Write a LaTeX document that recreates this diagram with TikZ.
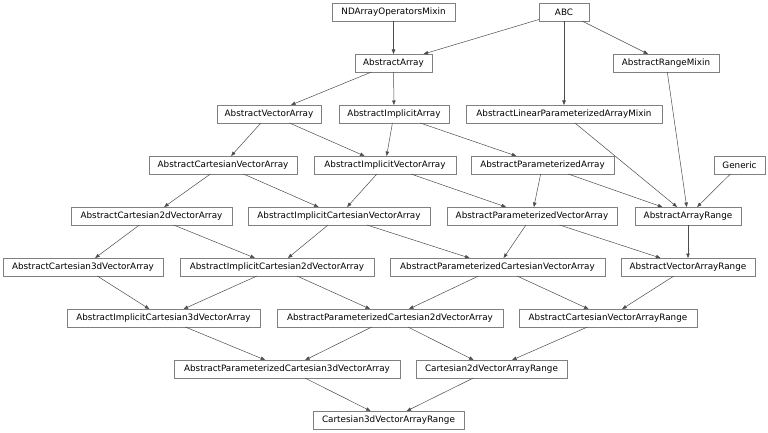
\documentclass[tikz,border=0pt]{standalone}
\usepackage{fontspec}
\setmainfont{DejaVu Sans}
\usetikzlibrary{arrows.meta}
\begin{document}
\begin{tikzpicture}[x=1pt,y=1pt,
  cls/.style={draw=black!50, line width=0.6pt, fill=white, minimum height=18pt, inner sep=0pt, outer sep=0pt, font=\fontsize{8.8}{10}\selectfont, text=black},
  edge/.style={draw=black!70, line width=0.5pt, -{Triangle[length=4.5pt,width=3.5pt]}}]
\useasboundingbox (0,0) rectangle (768,432);
% row 0
\node[cls, minimum width=123pt] (nd) at (393.5,420) {NDArrayOperatorsMixin};
\node[cls, minimum width=50pt] (abc) at (564,420) {ABC};
% row 1
\node[cls, minimum width=77pt] (aa) at (393.5,369) {AbstractArray};
\node[cls, minimum width=106pt] (arm) at (666,369) {AbstractRangeMixin};
% row 2
\node[cls, minimum width=104pt] (ava) at (269,318) {AbstractVectorArray};
\node[cls, minimum width=110pt] (aia) at (394,318) {AbstractImplicitArray};
\node[cls, minimum width=196pt] (alp) at (564,318) {AbstractLinearParameterizedArrayMixin};
% row 3
\node[cls, minimum width=148pt] (acva) at (223,267) {AbstractCartesianVectorArray};
\node[cls, minimum width=142pt] (aiva) at (385,267) {AbstractImplicitVectorArray};
\node[cls, minimum width=143pt] (apa) at (542.5,267) {AbstractParameterizedArray};
\node[cls, minimum width=51pt] (gen) at (739.5,267) {Generic};
% row 4
\node[cls, minimum width=161pt] (ac2) at (151.5,216) {AbstractCartesian2dVectorArray};
\node[cls, minimum width=182pt] (aicva) at (339,216) {AbstractImplicitCartesianVectorArray};
\node[cls, minimum width=170pt] (apva) at (532,216) {AbstractParameterizedVectorArray};
\node[cls, minimum width=106pt] (aar) at (688,216) {AbstractArrayRange};
% row 5
\node[cls, minimum width=160pt] (ac3) at (83,165) {AbstractCartesian3dVectorArray};
\node[cls, minimum width=194pt] (aic2) at (277,165) {AbstractImplicitCartesian2dVectorArray};
\node[cls, minimum width=215pt] (apcva) at (497.5,165) {AbstractParameterizedCartesianVectorArray};
\node[cls, minimum width=134pt] (avar) at (688,165) {AbstractVectorArrayRange};
% row 6
\node[cls, minimum width=193pt] (aic3) at (163.5,114) {AbstractImplicitCartesian3dVectorArray};
\node[cls, minimum width=226pt] (apc2) at (390,114) {AbstractParameterizedCartesian2dVectorArray};
\node[cls, minimum width=178pt] (acvar) at (608,114) {AbstractCartesianVectorArrayRange};
% row 7
\node[cls, minimum width=226pt] (apc3) at (287,63) {AbstractParameterizedCartesian3dVectorArray};
\node[cls, minimum width=151pt] (c2r) at (491.5,63) {Cartesian2dVectorArrayRange};
% row 8
\node[cls, minimum width=151pt] (c3r) at (388.5,12) {Cartesian3dVectorArrayRange};
% edges
\draw[edge] (nd) -- (aa);
\draw[edge] (abc) -- (aa);
\draw[edge] (abc) -- (alp);
\draw[edge] (abc) -- (arm);
\draw[edge] (aa) -- (ava);
\draw[edge] (aa) -- (aia);
\draw[edge] (arm) -- (aar);
\draw[edge] (ava) -- (acva);
\draw[edge] (ava) -- (aiva);
\draw[edge] (aia) -- (aiva);
\draw[edge] (aia) -- (apa);
\draw[edge] (alp) -- (aar);
\draw[edge] (acva) -- (ac2);
\draw[edge] (acva) -- (aicva);
\draw[edge] (aiva) -- (aicva);
\draw[edge] (aiva) -- (apva);
\draw[edge] (apa) -- (apva);
\draw[edge] (apa) -- (aar);
\draw[edge] (gen) -- (aar);
\draw[edge] (ac2) -- (ac3);
\draw[edge] (ac2) -- (aic2);
\draw[edge] (aicva) -- (aic2);
\draw[edge] (aicva) -- (apcva);
\draw[edge] (apva) -- (apcva);
\draw[edge] (apva) -- (avar);
\draw[edge] (aar) -- (avar);
\draw[edge] (ac3) -- (aic3);
\draw[edge] (aic2) -- (aic3);
\draw[edge] (aic2) -- (apc2);
\draw[edge] (apcva) -- (apc2);
\draw[edge] (apcva) -- (acvar);
\draw[edge] (avar) -- (acvar);
\draw[edge] (aic3) -- (apc3);
\draw[edge] (apc2) -- (apc3);
\draw[edge] (apc2) -- (c2r);
\draw[edge] (acvar) -- (c2r);
\draw[edge] (apc3) -- (c3r);
\draw[edge] (c2r) -- (c3r);
\end{tikzpicture}
\end{document}
